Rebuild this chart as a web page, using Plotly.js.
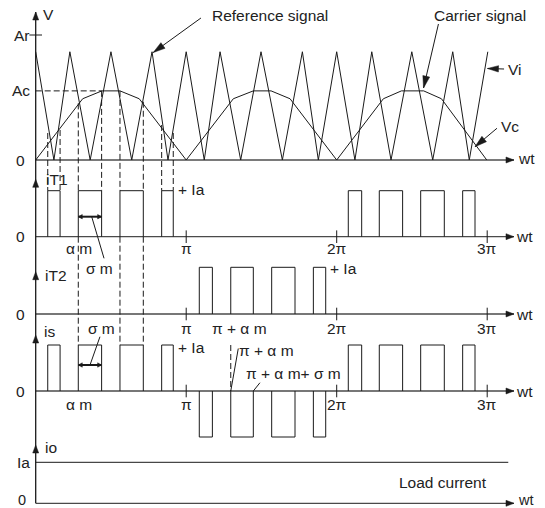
<!DOCTYPE html>
<html><head><meta charset="utf-8">
<script src="https://cdn.plot.ly/plotly-3.0.1.min.js"></script>
<style>html,body{margin:0;padding:0;background:#fff}</style>
</head><body><div id="chart" style="width:545px;height:508px"></div>
<script>
// ---------------- data (x in multiples of π) ----------------
// carrier (triangle) vertices, values in units of Ar
const carrierX = [0,0.121,0.227,0.362,0.5,0.638,0.773,0.879,1.0,1.12,1.225,1.362,1.497,1.639,1.772,1.878,2.0,2.121,2.233,2.361,2.499,2.638,2.771,2.881,3.004];
const carrierV = [0.866,0,0.866,0,0.866,0,0.866,0,0.866,0,0.866,0,0.866,0,0.866,0,0.866,0,0.866,0,0.866,0,0.866,0,0.866];
// reference (trapezoid-like) vertices
const refX = [0,0.312,0.44,0.56,0.688,1.0,1.313,1.446,1.564,1.69,2.0,2.31,2.43,2.578,2.696,2.997];
const refV = [0,0.49,0.553,0.553,0.49,0,0.49,0.553,0.553,0.49,0,0.49,0.553,0.553,0.49,0];
const levelAr = 1, levelAc = 0.553;
// gate current pulses (units of Ia)
const iT1On  = [0.080,0.283,0.560,0.837,2.077,2.283,2.558,2.837];
const iT1Off = [0.162,0.438,0.715,0.914,2.166,2.438,2.715,2.919];
const iT2On  = [1.087,1.296,1.568,1.845];
const iT2Off = [1.174,1.446,1.723,1.927];
// load current
const ioX = [0, 3.14];
const ioV = [1, 1];
// tick labels
const piTicks = [1, 2, 3];
const piTickText = ['π', '2π', '3π'];
// tops of the dashed projection lines (units of Ar), one per iT1 edge in first half cycle
const dashTop = [0.216,0.24,0.453,0.553,0.553,0.466,0.28,0.216];
const longDashIdx = [2, 4, 5];

// ---------------- geometry ----------------
const W = 545, H = 508, X0PX = 35.7, PXPI = 150.5;
const panels = [{py0:160,s:125},{py0:236.7,s:46},{py0:314,s:46.7},{py0:391,s:46},{py0:503.3,s:41}];
const axisTop = [1.184, 1.248, 0.906, 1.217, 1.422];
const axisEnd = 3.178;
const yid = ['y','y2','y3','y4','y5'];
function rng(p){return [-(H-p.py0)/p.s, p.py0/p.s];}
function y1(k,v){const p=panels[k];return (panels[0].py0-(p.py0-v*p.s))/panels[0].s;}
function pix(x,v){return [X0PX+x*PXPI, panels[0].py0-v*panels[0].s];}
function unpix(px,py){return [(px-X0PX)/PXPI,(panels[0].py0-py)/panels[0].s];}

const INK = '#1a1a1a';
const traces = [];
function line(x,y,ax,opt){traces.push(Object.assign({type:'scatter',mode:'lines',x:x,y:y,yaxis:ax,hoverinfo:'skip',showlegend:false,line:{color:INK,width:1}},opt||{}));}
function rects(on,off,level){const x=[],y=[];for(let i=0;i<on.length;i++){x.push(on[i],on[i],off[i],off[i],null);y.push(0,level,level,0,null);}return {x,y};}

// arrow heads (in y1 units)
const heads = {x:[],y:[]};
function head(tail,tip,len,hw){
  const a=pix(tail[0],tail[1]), b=pix(tip[0],tip[1]);
  const dx=b[0]-a[0], dy=b[1]-a[1], L=Math.hypot(dx,dy), ux=dx/L, uy=dy/L;
  const bx=b[0]-ux*len, by=b[1]-uy*len, nx=-uy, ny=ux;
  [[b[0],b[1]],[bx+nx*hw,by+ny*hw],[bx-nx*hw,by-ny*hw],[b[0],b[1]]].forEach(p=>{const u=unpix(p[0],p[1]);heads.x.push(u[0]);heads.y.push(u[1]);});
  heads.x.push(null);heads.y.push(null);
}
function arrow(tail,tip,len,hw,opt){line([tail[0],tip[0]],[tail[1],tip[1]],'y',opt);head(tail,tip,len,hw);}

// ---------------- axes ----------------
for(let k=0;k<5;k++){
  arrow([0,y1(k,0)],[axisEnd,y1(k,0)],8,3,{line:{color:k===0?'#7a7a7a':'#4a4a4a',width:k===0?2:1.3}});
}
line([0,0],[y1(4,0),y1(0,axisTop[0])],'y',{line:{color:INK,width:1.3}});
for(let k=0;k<5;k++){head([0,y1(k,axisTop[k])-0.2],[0,y1(k,axisTop[k])],8,3);}
// Ar tick
traces.push({type:'scatter',mode:'markers',x:[0],y:[levelAr],yaxis:'y',hoverinfo:'skip',showlegend:false,marker:{symbol:'line-ew',size:9,line:{color:INK,width:1}}});
// π ticks
[1,2,3].forEach(k=>traces.push({type:'scatter',mode:'markers',x:piTicks,y:piTicks.map(()=>0),yaxis:yid[k],hoverinfo:'skip',showlegend:false,marker:{symbol:'line-ns',size:9,line:{color:INK,width:1}}}));

// ---------------- dashed projections ----------------
const dashEdges = iT1On.slice(0,4).flatMap((v,i)=>[v,iT1Off[i]]);
const dx=[],dy=[];
dashEdges.forEach((x,i)=>{dx.push(x,x,null);dy.push(dashTop[i],y1(1,1),null);});
longDashIdx.forEach(i=>{dx.push(dashEdges[i],dashEdges[i],null);dy.push(y1(1,0),y1(3,1),null);});
dx.push(0,iT1Off[1],null);dy.push(levelAc,levelAc,null);
dx.push(iT2On[1],iT2On[1],null);dy.push(y1(3,1),y1(3,0),null);
line(dx,dy,'y',{line:{color:INK,width:1,dash:'6px,3px'}});

// ---------------- signals ----------------
line(carrierX,carrierV,'y');
line(refX,refV,'y');
const r1=rects(iT1On,iT1Off,1); line(r1.x,r1.y,'y2');
const r2=rects(iT2On,iT2Off,1); line(r2.x,r2.y,'y3');
const rsP=rects(iT1On,iT1Off,1), rsN=rects(iT2On,iT2Off,-1);
line(rsP.x.concat(rsN.x),rsP.y.concat(rsN.y),'y4');
line(ioX,ioV,'y5');

// σm dimension arrows
[[1,0.435],[3,0.565]].forEach(([k,v])=>{
  arrow([iT1On[1],y1(k,v)],[iT1Off[1],y1(k,v)],4,2.2,{line:{color:INK,width:2}});
  head([iT1Off[1],y1(k,v)],[iT1On[1],y1(k,v)],4,2.2);
});
// leader lines
line([0.454,0.372],[-0.47,0.435],'y2');
line([0.427,0.361],[1.18,0.565],'y4');
line([1.346,iT2On[1]],[0.924,0],'y4');
line([1.490,iT2Off[1]],[0.18,0],'y4');

// callout arrows
arrow([1.098,1.136],[0.781,0.86],12,3.5);
arrow([2.676,1.088],[2.577,0.576],12,3.5);
arrow([3.112,0.728],[3.002,0.732],11,3.2);
arrow([3.065,0.254],[2.919,0.106],12,3.5);

traces.push({type:'scatter',mode:'lines',x:heads.x,y:heads.y,yaxis:'y',fill:'toself',fillcolor:INK,line:{color:INK,width:0.5},hoverinfo:'skip',showlegend:false});

// ---------------- labels ----------------
const ann=[];
function lab(t,x,v,k,xa,sz){ann.push({text:t,x:x,y:v,xref:'x',yref:yid[k],showarrow:false,xanchor:xa||'center',yanchor:'middle',font:{family:'Liberation Sans, Arial, sans-serif',size:sz||15.5,color:'#222'}});}
lab('V',0.088,1.168,0);
lab('Ar',-0.025,levelAr,0,'right');
lab('Ac',-0.022,levelAc,0,'right');
lab('0',-0.055,0,0,'right');
lab('Reference signal',1.16,1.16,0,'left');
lab('Carrier signal',2.635,1.16,0,'left');
lab('Vi',3.125,0.728,0,'left');
lab('Vc',3.08,0.272,0,'left');
lab('wt',3.19,0.016,0,'left');

lab('iT1',0.058,1.233,1,'left');
lab('+ Ia',0.93,1.037,1,'left');
lab('0',-0.055,0,1,'right');
lab('α m',0.288,-0.267,1);
lab('σ m',0.427,-0.702,1);
lab('wt',3.18,0,1,'left');
piTicks.forEach((p,i)=>lab(piTickText[i],p,-0.26,1));

lab('iT2',0.05,0.814,2,'left');
lab('+ Ia',1.94,0.964,2,'left');
lab('0',-0.055,0,2,'right');
lab('π + α m',1.351,-0.30,2);
lab('σ m',0.44,-0.30,2);
lab('wt',3.18,0,2,'left');
piTicks.forEach((p,i)=>lab(piTickText[i],p,-0.30,2));

lab('is',0.045,1.283,3,'left');
lab('+ Ia',0.93,0.935,3,'left');
lab('π + α m',1.34,0.891,3,'left');
lab('π + α m+ σ m',1.385,0.391,3,'left');
lab('0',-0.055,0,3,'right');
lab('α m',0.288,-0.304,3);
lab('wt',3.18,0,3,'left');
piTicks.forEach((p,i)=>lab(piTickText[i],p,-0.304,3));

lab('io',0.05,1.373,4,'left');
lab('Ia',-0.022,1,4,'right');
lab('0',-0.05,0.08,4,'right',14.5);
lab('Load current',2.706,0.507,4);
lab('wt',3.19,0.08,4,'left',14.5);

const layout={width:W,height:H,margin:{l:0,r:0,t:0,b:0},paper_bgcolor:'#fff',plot_bgcolor:'#fff',showlegend:false,
  xaxis:{range:[-X0PX/PXPI,(W-X0PX)/PXPI],visible:false,fixedrange:true},
  annotations:ann};
yid.forEach((id,k)=>{const key='yaxis'+(k?k+1:'');layout[key]={range:rng(panels[k]),domain:[0,1],visible:false,fixedrange:true};if(k){layout[key].overlaying='y';layout[key].anchor='x';}});
Plotly.newPlot('chart',traces,layout,{staticPlot:true,displayModeBar:false});
</script></body></html>
